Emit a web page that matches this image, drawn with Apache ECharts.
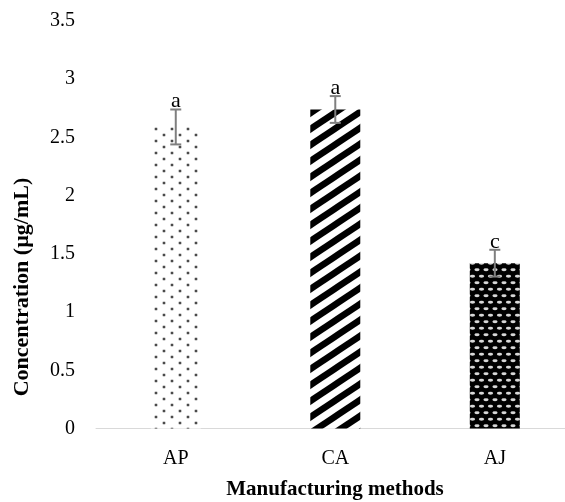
<!DOCTYPE html>
<html>
<head>
<meta charset="utf-8">
<script src="https://cdn.jsdelivr.net/npm/echarts@6/dist/echarts.min.js"></script>
<style>html,body{margin:0;padding:0;background:#fff}#c{width:565px;height:502px}</style>
</head>
<body>
<div id="c"></div>
<script>
var categories = ['AP', 'CA', 'AJ'];
var meanValues = [2.59, 2.74, 1.42];
var errorValues = [0.15, 0.115, 0.115];
var letters = ['a', 'a', 'c'];
var yTicks = [0, 0.5, 1, 1.5, 2, 2.5, 3, 3.5];

function tile(w, h, draw) {
  var c = document.createElement('canvas');
  c.width = w; c.height = h;
  var g = c.getContext('2d');
  draw(g, w, h);
  return c;
}
var dotsTile = tile(16, 12, function (g, w, h) {
  g.fillStyle = '#fff'; g.fillRect(0, 0, w, h);
  var pts = [[4, 3], [12, 9]];
  pts.forEach(function (p) {
    g.fillStyle = '#b0b0b0';
    g.beginPath(); g.arc(p[0], p[1], 1.8, 0, Math.PI * 2); g.fill();
    g.fillStyle = '#333';
    g.beginPath(); g.arc(p[0], p[1], 1.1, 0, Math.PI * 2); g.fill();
  });
});
var stripeTile = tile(24, 16, function (g, w, h) {
  g.fillStyle = '#fff'; g.fillRect(0, 0, w, h);
  g.strokeStyle = '#000'; g.lineWidth = 6.5;
  for (var k = -1; k <= 1; k++) {
    g.beginPath(); g.moveTo(-24, 32 + 16 * k); g.lineTo(48, -16 + 16 * k); g.stroke();
  }
});
var dashTile = tile(9, 13, function (g, w, h) {
  g.fillStyle = '#000'; g.fillRect(0, 0, w, h);
  g.fillStyle = '#d8d8d8';
  var pts = [[4.5, 3.25], [0, 9.75], [9, 9.75]];
  pts.forEach(function (p) {
    g.beginPath(); g.ellipse(p[0], p[1], 2.6, 1.4, 0, 0, Math.PI * 2); g.fill();
  });
});
var patterns = [dotsTile, stripeTile, dashTile];

var chart = echarts.init(document.getElementById('c'), null, {renderer: 'canvas'});
var serif = '"Liberation Serif", "Times New Roman", serif';
chart.setOption({
  animation: false,
  grid: {left: 96, top: 21, right: 0, height: 407.5},
  xAxis: {
    type: 'value',
    min: -0.5, max: 2.44,
    splitLine: {show: false},
    axisLine: {show: true, lineStyle: {color: '#d9d9d9', width: 1}},
    axisTick: {show: false},
    axisLabel: {
      color: '#000', fontSize: 20, fontFamily: serif, margin: 20,
      customValues: [0, 1, 2],
      formatter: function (v) { return categories[Math.round(v)] || ''; }
    }
  },
  yAxis: {
    type: 'value',
    min: yTicks[0], max: yTicks[yTicks.length - 1], interval: 0.5,
    splitLine: {show: false},
    axisLine: {show: false},
    axisTick: {show: false},
    axisLabel: {color: '#000', fontSize: 20, fontFamily: serif, margin: 21}
  },
  graphic: [
    {type: 'text', x: 335, y: 490, style: {text: 'Manufacturing methods', font: 'bold 21px ' + serif, fill: '#000', align: 'center', verticalAlign: 'middle'}},
    {type: 'text', x: 22, y: 287, rotation: Math.PI / 2, style: {text: 'Concentration (µg/mL)', font: 'bold 22px ' + serif, fill: '#000', align: 'center', verticalAlign: 'middle'}}
  ],
  series: [
    {
      type: 'bar',
      barWidth: 50,
      data: meanValues.map(function (v, i) {
        return {value: [i, v], itemStyle: {color: {image: patterns[i], repeat: 'repeat'}}};
      })
    },
    {
      type: 'custom',
      data: meanValues.map(function (v, i) { return [i, v, errorValues[i]]; }),
      renderItem: function (params, api) {
        var i = api.value(0), m = api.value(1), e = api.value(2);
        var top = api.coord([i, m + e]);
        var bot = api.coord([i, m - e]);
        var cap = 5.5;
        var st = {stroke: '#7f7f7f', lineWidth: 2};
        return {
          type: 'group',
          children: [
            {type: 'line', shape: {x1: top[0], y1: top[1], x2: bot[0], y2: bot[1]}, style: st},
            {type: 'line', shape: {x1: top[0] - cap, y1: top[1], x2: top[0] + cap, y2: top[1]}, style: st},
            {type: 'line', shape: {x1: bot[0] - cap, y1: bot[1], x2: bot[0] + cap, y2: bot[1]}, style: st},
            {type: 'text', x: top[0], y: top[1] + 3, style: {text: letters[params.dataIndex], font: '22px ' + serif, fill: '#000', align: 'center', verticalAlign: 'bottom'}}
          ]
        };
      },
      z: 5
    }
  ]
});
</script>
</body>
</html>
